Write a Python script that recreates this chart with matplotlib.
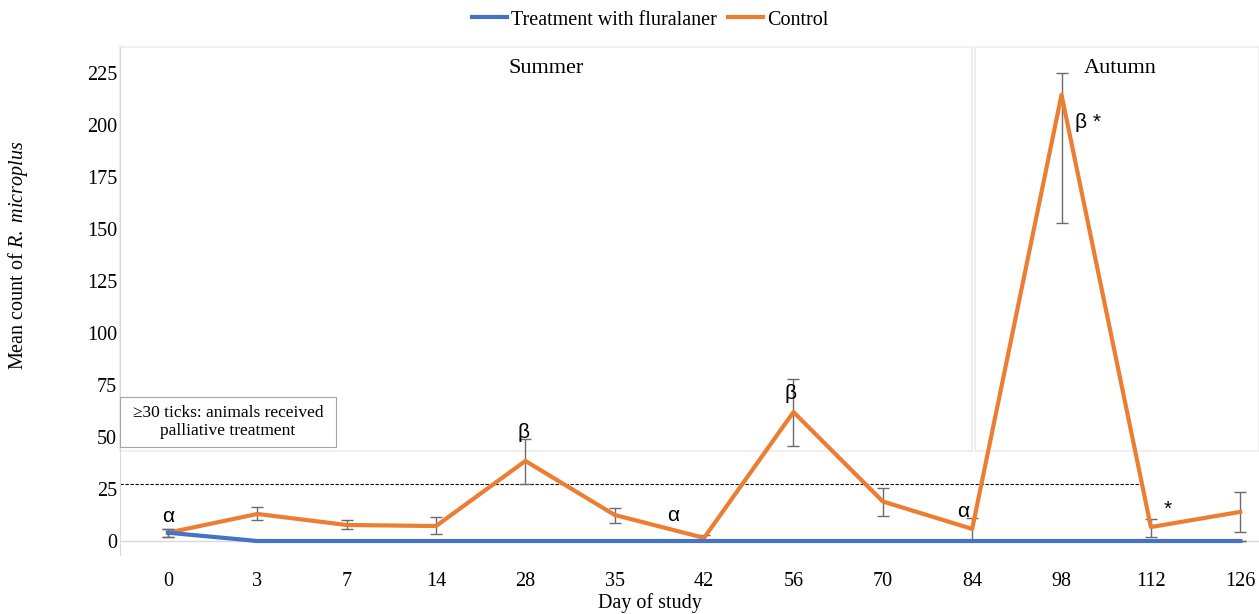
import matplotlib
matplotlib.use("Agg")
import matplotlib.pyplot as plt
from matplotlib.patches import Rectangle
from matplotlib.lines import Line2D
import numpy as np

plt.rcParams['font.family'] = ['Liberation Serif', 'DejaVu Serif']
plt.rcParams['mathtext.fontset'] = 'custom'
plt.rcParams['mathtext.rm'] = 'Liberation Serif'
plt.rcParams['mathtext.it'] = 'Liberation Serif:italic'

days = ['0', '3', '7', '14', '28', '35', '42', '56', '70', '84', '98', '112', '126']
treatment = [4, 0, 0, 0, 0, 0, 0, 0, 0, 0, 0, 0, 0]
treatment_lo = [2, 0, 0, 0, 0, 0, 0, 0, 0, 0, 0, 0, 0]
treatment_hi = [2, 0, 0, 0, 0, 0, 0, 0, 0, 0, 0, 0, 0]
control = [4, 13, 7.7, 7.2, 38.5, 12.5, 1.5, 62, 19, 5.8, 214.5, 6.7, 14]
control_low = [2, 10, 6, 3.5, 27.4, 8.7, 0.5, 45.7, 12.2, 0, 153, 2, 4.3]
control_high = [6, 16.5, 10, 11.5, 49, 15.9, 3, 78, 25.5, 11, 225, 10.5, 23.7]
threshold = 27.5
yticks = [0, 25, 50, 75, 100, 125, 150, 175, 200, 225]

fig = plt.figure(figsize=(12.59, 6.14), dpi=100)
ax = fig.add_axes([120/1259, 1-555/614, (1259-120)/1259, (555-47)/614])

x = np.arange(len(days))
xl, xr = -0.537, 12.21
ax.set_xlim(xl, xr)
ax.set_ylim(-6.73, 237.5)

blue = '#4472C4'
orange = '#ED7D31'
errc = '#6b6b6b'

# season boxes
ax.add_patch(Rectangle((xl, 43.3), 9.0 - xl, 237.5 - 43.3, fill=False,
                       edgecolor='#ececec', lw=1.2, zorder=1, clip_on=False))
ax.add_patch(Rectangle((9.03, 43.3), xr - 9.03, 237.5 - 43.3, fill=False,
                       edgecolor='#ececec', lw=1.2, zorder=1, clip_on=False))

# zero gridline
ax.axhline(0, color='#d9d9d9', lw=1, zorder=1)

# threshold dashed
ax.plot([xl, 10.9], [threshold, threshold], color='black', lw=0.8,
        dashes=(3, 1.5), zorder=2)

c = np.array(control)
terr = [treatment_lo, treatment_hi]
cerr = [c - np.array(control_low), np.array(control_high) - c]

ax.errorbar(x, treatment, yerr=terr, color=blue, lw=3, ecolor=errc,
            elinewidth=1, capsize=4, capthick=1, zorder=4)
ax.errorbar(x, control, yerr=cerr, color=orange, lw=3, ecolor=errc,
            elinewidth=1, capsize=4, capthick=1, zorder=3)

# spines and ticks
for s in ['top', 'right', 'bottom']:
    ax.spines[s].set_visible(False)
ax.spines['left'].set_color('#d9d9d9')
ax.set_xticks(x)
ax.set_xticklabels(days, fontsize=14.5)
ax.set_yticks(yticks)
ax.set_yticklabels([str(v) for v in yticks], fontsize=14.5)
ax.tick_params(axis='both', length=0)
ax.tick_params(axis='x', pad=12)
ax.tick_params(axis='y', pad=2)

fig.text(650/1259, 1-603/614, 'Day of study', fontsize=14.5,
         ha='center', va='center')
fig.text(18/1259, 1-255/614, r'Mean count of $\it{R.\ microplus}$',
         fontsize=14.5, ha='center', va='center', rotation=90)

# season labels
ax.text(4.23, 227.4, 'Summer', fontsize=16, ha='center', va='center')
ax.text(10.66, 227.4, 'Autumn', fontsize=16, ha='center', va='center')

# palliative box
ax.add_patch(Rectangle((xl, 45.2), 1.88 - xl, 69.2 - 45.2, facecolor='white',
                       edgecolor='#a6a6a6', lw=0.8, zorder=5, clip_on=False))
ax.text(0.67, 57.2, '\u226530 ticks: animals received\npalliative treatment',
        fontsize=12.5, ha='center', va='center', zorder=6, linespacing=1.1)

# significance annotations
ann = dict(fontsize=15, family=['Liberation Sans', 'DejaVu Sans'],
           ha='center', va='center', zorder=6)
ax.text(0, 12.0, '\u03b1', **ann)
ax.text(3.985, 52.4, '\u03b2', **ann)
ax.text(5.65, 12.5, '\u03b1', **ann)
ax.text(6.97, 70.7, '\u03b2', **ann)
ax.text(8.9, 14.4, '\u03b1', **ann)
ax.text(10.3, 201.4, '\u03b2 *', **ann)
ax.text(11.19, 15.0, '*', **ann)

handles = [Line2D([], [], color=blue, lw=3), Line2D([], [], color=orange, lw=3)]
fig.legend(handles, ['Treatment with fluralaner', 'Control'], loc='center',
           bbox_to_anchor=(650/1259, 1-20/614), ncol=2, frameon=False,
           fontsize=14.5, handlelength=1.75, handletextpad=0.2,
           columnspacing=0.55)

fig.savefig('out.png', dpi=100)
